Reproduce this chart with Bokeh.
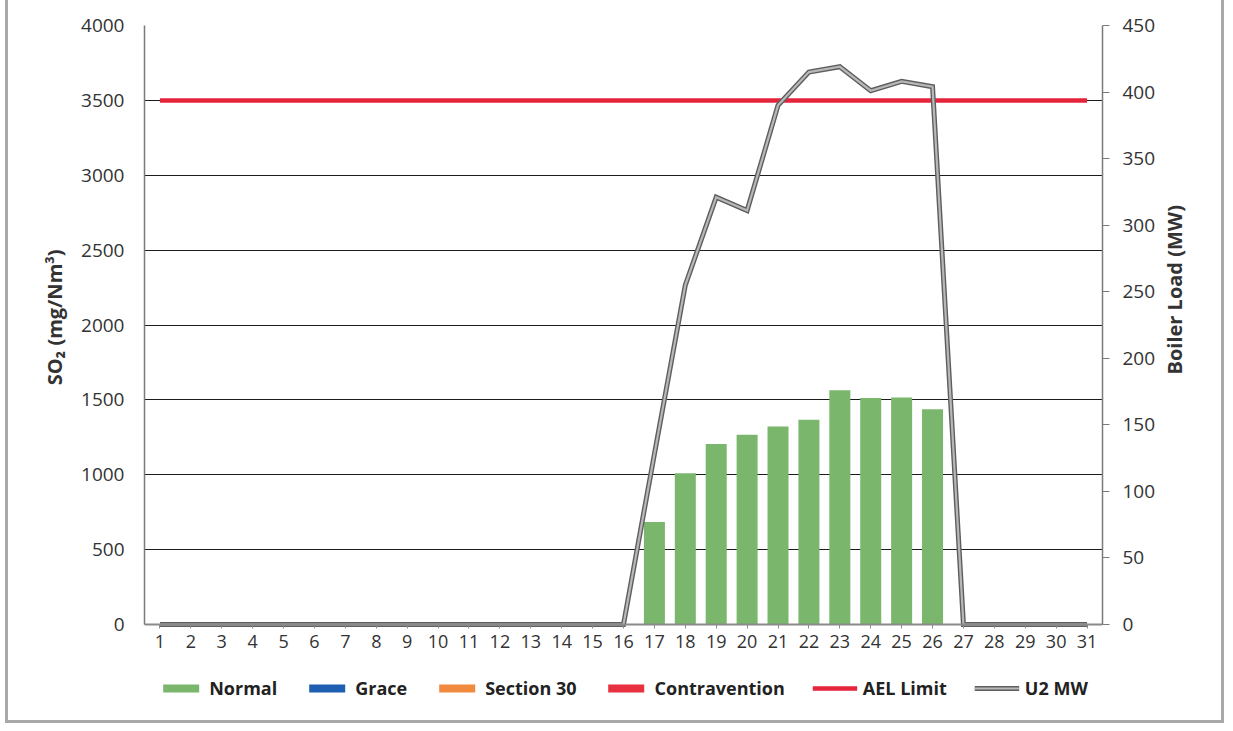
import math
from bokeh.plotting import figure
from bokeh.models import (Range1d, FactorRange, LinearAxis, Legend, LegendItem,
                          FixedTicker, ColumnDataSource)
from bokeh.embed import file_html
from bokeh.resources import INLINE

days = ["1", "2", "3", "4", "5", "6", "7", "8", "9", "10", "11", "12", "13", "14", "15", "16",
        "17", "18", "19", "20", "21", "22", "23", "24", "25", "26", "27", "28", "29", "30", "31"]
normal = [0, 0, 0, 0, 0, 0, 0, 0, 0, 0, 0, 0, 0, 0, 0, 0,
          684, 1010, 1205, 1267, 1322, 1367, 1565, 1513, 1516, 1437, 0, 0, 0, 0, 0]
grace = [0, 0, 0, 0, 0, 0, 0, 0, 0, 0, 0, 0, 0, 0, 0, 0,
         0, 0, 0, 0, 0, 0, 0, 0, 0, 0, 0, 0, 0, 0, 0]
section30 = [0, 0, 0, 0, 0, 0, 0, 0, 0, 0, 0, 0, 0, 0, 0, 0,
             0, 0, 0, 0, 0, 0, 0, 0, 0, 0, 0, 0, 0, 0, 0]
contravention = [0, 0, 0, 0, 0, 0, 0, 0, 0, 0, 0, 0, 0, 0, 0, 0,
                 0, 0, 0, 0, 0, 0, 0, 0, 0, 0, 0, 0, 0, 0, 0]
ael_limit = [3500, 3500, 3500, 3500, 3500, 3500, 3500, 3500, 3500, 3500, 3500, 3500, 3500,
             3500, 3500, 3500, 3500, 3500, 3500, 3500, 3500, 3500, 3500, 3500, 3500, 3500,
             3500, 3500, 3500, 3500, 3500]
u2_mw = [0, 0, 0, 0, 0, 0, 0, 0, 0, 0, 0, 0, 0, 0, 0, 0,
         128, 255, 321, 311, 390, 415, 419, 401, 408, 404, 0, 0, 0, 0, 0]

so2_ticks = [0, 500, 1000, 1500, 2000, 2500, 3000, 3500, 4000]
mw_ticks = [0, 50, 100, 150, 200, 250, 300, 350, 400, 450]
so2_max = 4000
mw_max = 450

FONT = "Open Sans"
TXT = "#333333"
NB = "\u00a0"

# layout (pixels): plotting area for the axes, plus room below it for ticks and legend
PLOT_H = 599          # height between 0 and the top of the axes
BELOW_H = 99          # room under the zero line (tick labels + legend)
so2_lo = -so2_max * BELOW_H / PLOT_H
mw_lo = -mw_max * BELOW_H / PLOT_H

src = ColumnDataSource(dict(days=days, normal=normal, grace=grace, section30=section30,
                            contravention=contravention, ael=ael_limit, mw=u2_mw))

p = figure(width=1219, height=723, x_range=FactorRange(*days, range_padding=0),
           y_range=Range1d(so2_lo, so2_max), output_backend="svg", toolbar_location=None,
           min_border_left=136, min_border_right=125, min_border_top=25, min_border_bottom=0)
p.extra_y_ranges = {"mw": Range1d(mw_lo, mw_max)}
p.outline_line_color = None
p.background_fill_color = "white"
p.border_fill_color = "white"
p.margin = (0, 0, 0, 5)
p.styles = {"border-left": "3px solid #a9a9a9", "border-right": "3px solid #a9a9a9",
            "border-bottom": "3px solid #a9a9a9", "box-sizing": "border-box"}

bars = p.vbar_stack(["normal", "grace", "section30", "contravention"], x="days", width=0.68,
                    color=["#7ab76c", "#1f5fb2", "#ef8a3e", "#e8303f"], line_color=None,
                    source=src)
ael = p.line("days", "ael", source=src, line_color="#e5233b", line_width=4.5)
mw_dark = p.line("days", "mw", source=src, y_range_name="mw", line_color="#5e5e5e",
                 line_width=5, line_join="miter")
mw_light = p.line("days", "mw", source=src, y_range_name="mw", line_color="#b8b8b8",
                  line_width=2.2, line_join="miter")

# grid
p.xgrid.grid_line_color = None
p.ygrid.ticker = FixedTicker(ticks=so2_ticks)
p.ygrid.grid_line_color = "#1c1c1c"
p.ygrid.grid_line_width = 1.2

# left axis (label padded so it is centred on the 0..4000 span, not the whole area)
ya = p.yaxis[0]
ya.ticker = FixedTicker(ticks=so2_ticks)
ya.bounds = (0, so2_max)
ya.axis_label = NB * 22 + "SO₂ (mg/Nm³)"
ya.axis_label_text_font = FONT
ya.axis_label_text_font_style = "bold"
ya.axis_label_text_font_size = "20px"
ya.axis_label_text_color = TXT
ya.axis_label_standoff = 10
ya.major_label_text_font = FONT
ya.major_label_text_font_size = "19px"
ya.major_label_text_color = TXT
ya.major_label_standoff = 14
ya.major_tick_line_color = None
ya.minor_tick_line_color = None
ya.axis_line_color = "#7a7a7a"
ya.axis_line_width = 1.5

# bottom axis, sitting on the zero line
xa = p.xaxis[0]
xa.fixed_location = 0
xa.major_label_text_font = FONT
xa.major_label_text_font_size = "18px"
xa.major_label_text_color = TXT
xa.major_label_standoff = 6
xa.axis_line_color = "#8a8a8a"
xa.axis_line_width = 2
xa.major_tick_line_color = "#8a8a8a"
xa.major_tick_out = 4
xa.major_tick_in = 0

# right axis (label reads bottom-to-top)
ra = LinearAxis(y_range_name="mw", ticker=FixedTicker(ticks=mw_ticks), bounds=(0, mw_max),
                axis_label="Boiler Load (MW)")
ra.axis_label_text_font = FONT
ra.axis_label_text_font_style = "bold"
ra.axis_label_text_font_size = "20px"
ra.axis_label_text_color = TXT
ra.axis_label_standoff = 16
if "axis_label_orientation" in ra.properties():
    ra.axis_label_orientation = math.pi / 2
ra.major_label_text_font = FONT
ra.major_label_text_font_size = "19px"
ra.major_label_text_color = TXT
ra.major_label_standoff = 13
ra.major_tick_out = 7
ra.major_tick_in = 0
ra.major_tick_line_color = "#7a7a7a"
ra.minor_tick_line_color = None
ra.axis_line_color = "#7a7a7a"
ra.axis_line_width = 1.5
p.add_layout(ra, "right")

legend = Legend(items=[
    LegendItem(label="Normal", renderers=[bars[0]]),
    LegendItem(label="Grace", renderers=[bars[1]]),
    LegendItem(label="Section 30", renderers=[bars[2]]),
    LegendItem(label="Contravention", renderers=[bars[3]]),
    LegendItem(label="AEL Limit", renderers=[ael]),
    LegendItem(label="U2 MW", renderers=[mw_dark, mw_light]),
], orientation="horizontal", location="bottom_center")
legend.label_text_font = FONT
legend.label_text_font_style = "bold"
legend.label_text_font_size = "18px"
legend.label_text_color = "#222222"
legend.glyph_width = 45
legend.glyph_height = 10
legend.label_standoff = 6
legend.spacing = 27
legend.padding = 0
legend.margin = 23
legend.border_line_color = None
legend.background_fill_alpha = 0
p.add_layout(legend)

open("out.html", "w").write(file_html(p, INLINE))
